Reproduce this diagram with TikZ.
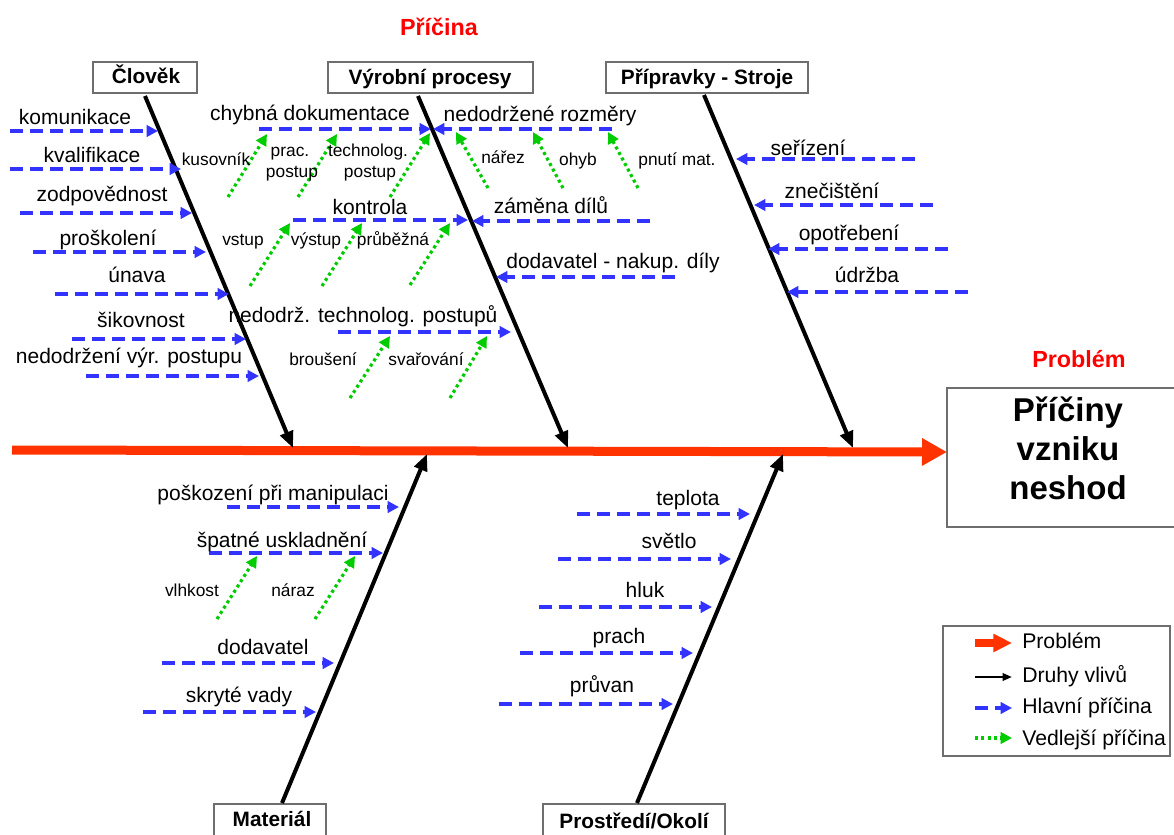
\documentclass[tikz,border=0pt]{standalone}
\usepackage{fontspec}
\setmainfont{Liberation Sans}
\usetikzlibrary{arrows.meta}
\definecolor{cblue}{RGB}{51,51,255}
\definecolor{cgreen}{RGB}{0,204,0}
\definecolor{cspine}{RGB}{255,51,0}
\definecolor{cred}{RGB}{255,0,0}
\definecolor{cbox}{RGB}{110,110,110}
\tikzset{
 lab/.style={anchor=base, inner sep=0pt, font=\fontsize{15.75}{18}\selectfont},
 sm/.style={anchor=base, inner sep=0pt, font=\fontsize{13}{15}\selectfont},
 catbox/.style={draw=cbox, line width=1.1pt, fill=white, inner sep=0pt, minimum height=23.25pt},
 cattxt/.style={anchor=base, inner sep=0pt, font=\bfseries\fontsize{15.6}{18}\selectfont},
 hl/.style={cblue, line width=2.5pt, dash pattern=on 9.5pt off 5.5pt, -{Triangle[length=8.5pt,width=8.5pt]}},
 vl/.style={cgreen, line width=2.4pt, dash pattern=on 2.3pt off 2.4pt, -{Triangle[length=8.5pt,width=8.5pt]}},
 bone/.style={black, line width=3pt, -{Triangle[length=12.5pt,width=10pt]}},
 spine/.style={cspine, line width=6.75pt, -{Triangle[length=18.75pt,width=19.5pt]}},
 redtitle/.style={anchor=base, inner sep=0pt, text=cred, font=\bfseries\fontsize{17.5}{20}\selectfont},
 probtxt/.style={anchor=base, inner sep=0pt, font=\bfseries\fontsize{24.75}{29}\selectfont},
 legtxt/.style={anchor=base west, inner sep=0pt, font=\fontsize{15.9}{18}\selectfont},
}
\newcommand\hcause[4]{\coordinate (#1a) at (#2,#4); \coordinate (#1b) at (#3,#4); \draw[hl] (#1a) -- (#1b);}
\newcommand\vcause[5]{\coordinate (#1a) at (#2,#3); \coordinate (#1b) at (#4,#5); \draw[vl] (#1a) -- (#1b);}
\begin{document}
\begin{tikzpicture}[x=0.75pt,y=-0.75pt]
\useasboundingbox (0,0) rectangle (1174,835);
% spine and problem box
\node[draw=cbox, line width=1.1pt, minimum width=181.5pt, minimum height=104.25pt, inner sep=0pt] (prob) at (1068,457.5) {};
\node[probtxt] (prob1) at (1068,421) {Příčiny};
\node[probtxt] (prob2) at (1068,460) {vzniku};
\node[probtxt] (prob3) at (1068,499) {neshod};
\node[redtitle] (problem) at (1079,367) {Problém};
\node[redtitle] (pricina) at (439,35) {Příčina};
\coordinate (sp0) at (12,450);
\coordinate (sp1) at (947,452);
\draw[spine] (sp0) -- (sp1);
% category boxes
\node[catbox, minimum width=78pt] (clovek) at (145,77.5) {};
\node[cattxt] (clovekt) at (146,83) {Člověk};
\node[catbox, minimum width=153.75pt] (vyroba) at (430.5,77.5) {};
\node[cattxt] (vyrobat) at (430,84) {Výrobní procesy};
\node[catbox, minimum width=151.5pt] (stroje) at (707,77.5) {};
\node[cattxt] (strojet) at (707,84) {Přípravky - Stroje};
\node[catbox, minimum width=84pt, minimum height=24pt] (material) at (270,820) {};
\node[cattxt] (materialt) at (272,826) {Materiál};
\node[catbox, minimum width=136.5pt, minimum height=24pt] (okoli) at (634,820) {};
\node[cattxt] (okolit) at (634,828) {Prostředí/Okolí};
% bones
\coordinate (b1s) at (145,96); \coordinate (b1e) at (293,448);
\coordinate (b2s) at (418,96); \coordinate (b2e) at (568,448);
\coordinate (b3s) at (704,95); \coordinate (b3e) at (853,448);
\coordinate (b4s) at (282,803); \coordinate (b4e) at (427,454);
\coordinate (b5s) at (637,803); \coordinate (b5e) at (783,454);
\draw[bone] (b1s) -- (b1e);
\draw[bone] (b2s) -- (b2e);
\draw[bone] (b3s) -- (b3e);
\draw[bone] (b4s) -- (b4e);
\draw[bone] (b5s) -- (b5e);
% main causes
\hcause{kom}{10}{158}{131}
\hcause{kva}{10}{181}{169}
\hcause{zod}{20}{192}{213}
\hcause{pro}{33}{206}{252}
\hcause{una}{55}{229}{294}
\hcause{sik}{72}{246}{339}
\hcause{ned}{86}{259}{376}
\hcause{chd}{259}{431}{129}
\hcause{nro}{612}{433}{129}
\hcause{kon}{293}{468}{220}
\hcause{zam}{650}{472}{221}
\hcause{dod}{675}{496}{277}
\hcause{ntp}{338}{511}{332}
\hcause{ser}{915}{736}{159}
\hcause{zne}{933}{754}{205}
\hcause{opo}{948}{768}{249}
\hcause{udr}{968}{787}{292}
\hcause{pos}{227}{399}{507}
\hcause{spu}{209}{383}{553}
\hcause{mdo}{162}{334}{663}
\hcause{skr}{143}{316}{712}
\hcause{tep}{577}{750}{514}
\hcause{svt}{558}{731}{559}
\hcause{hlu}{539}{712}{607}
\hcause{pra}{520}{693}{653}
\hcause{pru}{499}{673}{704}
% secondary causes
\vcause{g1}{228}{197}{267}{134}
\vcause{g2}{298}{197}{337}{134}
\vcause{g3}{390}{197}{430}{133}
\vcause{g4}{488}{188}{456}{132}
\vcause{g5}{563}{188}{533}{132}
\vcause{g6}{638}{188}{608}{132}
\vcause{g7}{250}{286}{290}{223}
\vcause{g8}{322}{286}{362}{223}
\vcause{g9}{410}{285}{450}{223}
\vcause{g10}{350}{398}{390}{336}
\vcause{g11}{450}{398}{487}{336}
\vcause{g12}{217}{619}{257}{556}
\vcause{g13}{315}{619}{355}{556}
% labels
\node[lab] (t-kom) at (75,124) {komunikace};
\node[lab] (t-kva) at (92,162) {kvalifikace};
\node[lab] (t-zod) at (102,201) {zodpovědnost};
\node[lab] (t-pro) at (108,245) {proškolení};
\node[lab] (t-una) at (137,282) {únava};
\node[lab] (t-sik) at (141,327) {šikovnost};
\node[lab] (t-ned) at (129,363) {nedodržení výr. postupu};
\node[lab] (t-chd) at (310,120) {chybná dokumentace};
\node[lab] (t-nro) at (540,121) {nedodržené rozměry};
\node[lab] (t-kon) at (370,214) {kontrola};
\node[lab] (t-zam) at (551,213) {záměna dílů};
\node[lab] (t-dod) at (613,268) {dodavatel - nakup. díly};
\node[lab] (t-ntp) at (363,322) {nedodrž. technolog. postupů};
\node[lab] (t-ser) at (808,155) {seřízení};
\node[lab] (t-zne) at (832,198) {znečištění};
\node[lab] (t-opo) at (849,240) {opotřebení};
\node[lab] (t-udr) at (867,282) {údržba};
\node[lab] (t-pos) at (273,500) {poškození při manipulaci};
\node[lab] (t-spu) at (282,547) {špatné uskladnění};
\node[lab] (t-mdo) at (263,654) {dodavatel};
\node[lab] (t-skr) at (239,702) {skryté vady};
\node[lab] (t-tep) at (688,505) {teplota};
\node[lab] (t-svt) at (669,548) {světlo};
\node[lab] (t-hlu) at (645,597) {hluk};
\node[lab] (t-pra) at (619,643) {prach};
\node[lab] (t-pru) at (602,692) {průvan};
% small labels
\node[sm] (s-kus) at (216,165) {kusovník};
\node[sm] (s-prac) at (290,156) {prac.};
\node[sm] (s-prac2) at (292,177) {postup};
\node[sm] (s-tech) at (368,156) {technolog.};
\node[sm] (s-tech2) at (370,177) {postup};
\node[sm] (s-nar) at (503,163) {nářez};
\node[sm] (s-ohy) at (578,165) {ohyb};
\node[sm] (s-pnu) at (677,165) {pnutí mat.};
\node[sm] (s-vst) at (243,245) {vstup};
\node[sm] (s-vys) at (316,245) {výstup};
\node[sm] (s-prb) at (393,245) {průběžná};
\node[sm] (s-bro) at (323,365) {broušení};
\node[sm] (s-sva) at (426,365) {svařování};
\node[sm] (s-vlh) at (192,596) {vlhkost};
\node[sm] (s-nrz) at (293,596) {náraz};
% legend
\node[draw=cbox, line width=1.1pt, minimum width=170.25pt, minimum height=97.5pt, inner sep=0pt] (legend) at (1056.5,691) {};
\coordinate (l1a) at (975,643); \coordinate (l1b) at (1012,643);
\coordinate (l2a) at (975,677); \coordinate (l2b) at (1012,677);
\coordinate (l3a) at (975,708); \coordinate (l3b) at (1012,708);
\coordinate (l4a) at (975,738); \coordinate (l4b) at (1012,738);
\draw[cspine, line width=6pt, -{Triangle[length=14pt,width=13pt]}] (l1a) -- (l1b);
\draw[black, line width=1.8pt, -{Triangle[length=7pt,width=5.5pt]}] (l2a) -- (l2b);
\draw[hl] (l3a) -- (l3b);
\draw[vl] (l4a) -- (l4b);
\node[legtxt] (lt1) at (1022,648) {Problém};
\node[legtxt] (lt2) at (1022,682) {Druhy vlivů};
\node[legtxt] (lt3) at (1022,713) {Hlavní příčina};
\node[legtxt] (lt4) at (1022,745) {Vedlejší příčina};
\end{tikzpicture}
\end{document}
